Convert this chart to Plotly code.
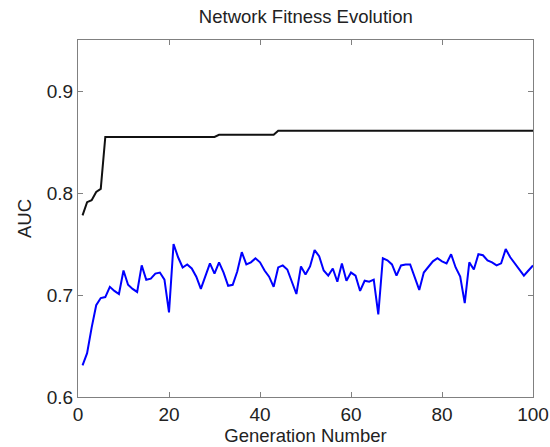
import plotly.graph_objects as go

generations = list(range(1, 101))

best_auc = [0.778, 0.791, 0.793, 0.801, 0.804] + [0.855] * 25 + [0.857] * 13 + [0.861] * 57

mean_auc = [
    0.631, 0.643, 0.668, 0.690, 0.697, 0.698, 0.708, 0.704, 0.701, 0.724,
    0.710, 0.706, 0.703, 0.729, 0.715, 0.716, 0.721, 0.722, 0.715, 0.683,
    0.750, 0.737, 0.727, 0.730, 0.726, 0.718, 0.706, 0.718, 0.731, 0.721,
    0.732, 0.722, 0.709, 0.710, 0.723, 0.742, 0.730, 0.732, 0.736, 0.732,
    0.724, 0.718, 0.708, 0.727, 0.729, 0.725, 0.713, 0.701, 0.728, 0.720,
    0.728, 0.744, 0.738, 0.724, 0.719, 0.726, 0.713, 0.731, 0.714, 0.722,
    0.719, 0.704, 0.714, 0.713, 0.715, 0.681, 0.736, 0.734, 0.730, 0.719,
    0.729, 0.730, 0.730, 0.718, 0.705, 0.722, 0.727, 0.733, 0.736, 0.733,
    0.731, 0.740, 0.727, 0.718, 0.692, 0.732, 0.725, 0.740, 0.739, 0.734,
    0.732, 0.729, 0.731, 0.745, 0.737, 0.731, 0.726, 0.719, 0.724, 0.729,
]

x_ticks = [0, 20, 40, 60, 80, 100]
y_ticks = [0.6, 0.7, 0.8, 0.9]
y_tick_labels = ["0.6", "0.7", "0.8", "0.9"]

FONT = "Liberation Sans, Arial, sans-serif"

fig = go.Figure()
fig.add_trace(go.Scatter(x=generations, y=best_auc, mode="lines",
                         line=dict(color="#111111", width=2), showlegend=False))
fig.add_trace(go.Scatter(x=generations, y=mean_auc, mode="lines",
                         line=dict(color="#0000ff", width=2), showlegend=False))

axis_common = dict(showline=True, linecolor="#808080", linewidth=1, mirror="ticks",
                   ticks="inside", ticklen=5, tickcolor="#808080", showgrid=False,
                   zeroline=False, automargin=False,
                   tickfont=dict(family=FONT, size=19, color="#222"))

fig.update_layout(
    width=550, height=447,
    margin=dict(l=78, r=17, t=40, b=50),
    paper_bgcolor="white", plot_bgcolor="white",
    title=dict(text="Network Fitness Evolution", x=0.556, xanchor="center", y=0.964, yanchor="middle",
               font=dict(family=FONT, size=18.5, color="#222")),
    xaxis=dict(range=[0, 100], tickvals=x_ticks, ticktext=[str(v) for v in x_ticks],
               title=dict(text="Generation Number", standoff=0,
                          font=dict(family=FONT, size=18.5, color="#222")),
               **axis_common),
    yaxis=dict(range=[0.6, 0.95], tickvals=y_ticks, ticktext=y_tick_labels,
               title=dict(text="AUC", standoff=10,
                          font=dict(family=FONT, size=18.5, color="#222")),
               **axis_common),
)

fig.write_html("out.html")
